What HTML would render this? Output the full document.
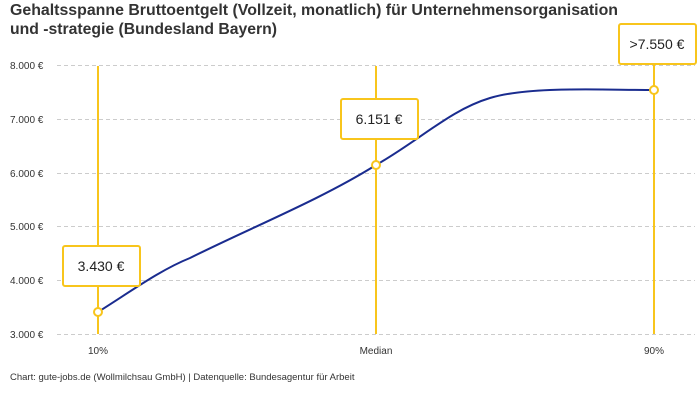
<!DOCTYPE html>
<html><head><meta charset="utf-8"><style>
body{margin:0;background:#fff;width:700px;height:400px;overflow:hidden;font-family:"Liberation Sans",sans-serif}
</style></head><body>
<svg width="700" height="400" xmlns="http://www.w3.org/2000/svg" font-family="Liberation Sans, sans-serif">
<text x="10" y="15" font-size="15.5" font-weight="bold" fill="#333" textLength="608" lengthAdjust="spacingAndGlyphs">Gehaltsspanne Bruttoentgelt (Vollzeit, monatlich) für Unternehmensorganisation</text>
<text x="10" y="34" font-size="15.5" font-weight="bold" fill="#333" textLength="267" lengthAdjust="spacingAndGlyphs">und -strategie (Bundesland Bayern)</text>
<g stroke="#ccc" stroke-dasharray="4,3" stroke-width="1">
<line x1="57" x2="695" y1="65.5" y2="65.5"/><line x1="57" x2="695" y1="119.5" y2="119.5"/>
<line x1="57" x2="695" y1="173.5" y2="173.5"/><line x1="57" x2="695" y1="226.5" y2="226.5"/>
<line x1="57" x2="695" y1="280.5" y2="280.5"/><line x1="57" x2="695" y1="334.5" y2="334.5"/>
</g>
<g font-size="10" fill="#333">
<text x="10" y="69">8.000 €</text><text x="10" y="123">7.000 €</text><text x="10" y="177">6.000 €</text>
<text x="10" y="230">5.000 €</text><text x="10" y="284">4.000 €</text><text x="10" y="338">3.000 €</text>
<text x="98" y="354" text-anchor="middle">10%</text><text x="376" y="354" text-anchor="middle">Median</text><text x="654" y="354" text-anchor="middle">90%</text>
<text x="10" y="380" font-size="9.5">Chart: gute-jobs.de (Wollmilchsau GmbH) | Datenquelle: Bundesagentur für Arbeit</text>
</g>
<g stroke="#f8c51c" stroke-width="2">
<line x1="98" x2="98" y1="66" y2="334"/><line x1="376" x2="376" y1="66" y2="334"/><line x1="654" x2="654" y1="64" y2="334"/>
</g>
<path d="M98 312 C130 292,160 270,190 258 C250 228,320 200,376 165 C420 140,450 110,490 98 C530 86,600 90,654 90" fill="none" stroke="#1a2c8f" stroke-width="2"/>
<g fill="#fff" stroke="#f8c51c" stroke-width="2">
<circle cx="98" cy="312" r="4"/><circle cx="376" cy="165" r="4"/><circle cx="654" cy="90" r="4"/>
<rect x="63" y="246" width="77" height="40" rx="2"/><rect x="341" y="99" width="77" height="40" rx="2"/><rect x="619" y="24" width="77" height="40" rx="2"/>
</g>
<g font-size="14" fill="#222" text-anchor="middle">
<text x="101" y="271">3.430 €</text><text x="379" y="124">6.151 €</text><text x="657" y="49">&gt;7.550 €</text>
</g>
</svg>
</body></html>
